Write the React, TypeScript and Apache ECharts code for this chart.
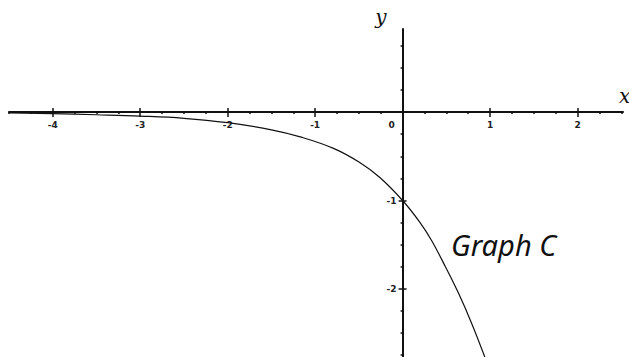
import React, { useEffect, useRef } from "react";
import * as echarts from "echarts";

// Axis ranges and ticks
const xRange = [-4.5, 2.52];
const yRange = [-2.77, 0.94];
const xMajorTicks = [-4, -3, -2, -1, 0, 1, 2];
const xLabels = [-4, -3, -2, -1, 0, 1, 2];
const yMajorTicks = [-2, -1];
const yLabels = [-2, -1];
const xMinorTicks = [
  -4.5, -4.25, -3.75, -3.5, -3.25, -2.75, -2.5, -2.25, -1.75, -1.5, -1.25,
  -0.75, -0.5, -0.25, 0.25, 0.5, 0.75, 1.25, 1.5, 1.75, 2.25, 2.5,
];
const yMinorTicks = [-2.75, -2.5, -2.25, -1.75, -1.5, -1.25, -0.75, -0.5, -0.25, 0.25, 0.5, 0.75];

// Curve
const curveX = [-4.5, -4, -3.5, -3, -2.5, -2, -1.5, -1.17, -0.79, -0.49, -0.26, 0, 0.2, 0.33, 0.49, 0.64, 0.79, 0.94];
const curveY = [-0.01, -0.018, -0.03, -0.045, -0.07, -0.12, -0.2, -0.28, -0.41, -0.57, -0.74, -1, -1.25, -1.45, -1.75, -2.05, -2.39, -2.77];

const annotation = "Graph C";

const W = 629;
const H = 357;
const GRID = { left: 9, right: 6, top: 29, bottom: 0 };

export default function App() {
  const ref = useRef<HTMLDivElement>(null);
  useEffect(() => {
    if (!ref.current) return;
    const chart = echarts.init(ref.current, null, { renderer: "svg" });
    const gw = W - GRID.left - GRID.right;
    const gh = H - GRID.top - GRID.bottom;
    // distance of the zero lines from the grid edges
    const zeroFromLeft = ((0 - xRange[0]) / (xRange[1] - xRange[0])) * gw;
    const zeroFromTop = ((yRange[1] - 0) / (yRange[1] - yRange[0])) * gh;
    const offBottom = -(gh - zeroFromTop);
    const offTop = -zeroFromTop;
    const offLeft = -zeroFromLeft;
    const offRight = -(gw - zeroFromLeft);

    const labelStyle = {
      fontSize: 9,
      fontWeight: "bold" as const,
      color: "#222",
      fontFamily: "DejaVu Sans",
    };
    const tickLine = { color: "#111", width: 1.5 };
    const baseX = {
      type: "value" as const,
      min: xRange[0],
      max: xRange[1],
      splitLine: { show: false },
    };
    const baseY = {
      type: "value" as const,
      min: yRange[0],
      max: yRange[1],
      splitLine: { show: false },
    };
    chart.setOption({
      animation: false,
      backgroundColor: "#fff",
      grid: { ...GRID, containLabel: false, outerBoundsMode: "none" },
      xAxis: [
        {
          ...baseX,
          position: "bottom",
          offset: offBottom,
          name: "x",
          nameLocation: "end",
          nameGap: -4,
          nameTextStyle: {
            fontFamily: "DejaVu Serif",
            fontStyle: "italic",
            fontSize: 20,
            color: "#111",
            verticalAlign: "bottom",
            padding: [0, 0, 6, 0],
          },
          axisLine: { onZero: false, lineStyle: { color: "#111", width: 2 } },
          axisTick: { customValues: xMajorTicks, length: 5, lineStyle: tickLine },
          axisLabel: {
            customValues: xLabels,
            margin: 8,
            ...labelStyle,
            formatter: (v: number) => (v === 0 ? "{z|0}" : String(v)),
            rich: { z: { ...labelStyle, padding: [0, 22, 0, 0] } },
          },
        },
        {
          ...baseX,
          position: "top",
          offset: offTop,
          axisLine: { show: false, onZero: false },
          axisTick: { customValues: xMajorTicks, length: 4, lineStyle: tickLine },
          axisLabel: { show: false },
        },
        {
          ...baseX,
          position: "bottom",
          offset: offBottom,
          axisLine: { show: false, onZero: false },
          axisTick: { customValues: xMinorTicks, length: 2, lineStyle: tickLine },
          axisLabel: { show: false },
        },
      ],
      yAxis: [
        {
          ...baseY,
          position: "left",
          offset: offLeft,
          name: "y",
          nameLocation: "end",
          nameGap: 2,
          nameTextStyle: {
            fontFamily: "DejaVu Serif",
            fontStyle: "italic",
            fontSize: 20,
            color: "#111",
            align: "right",
            padding: [0, 16, 0, 0],
          },
          axisLine: { onZero: false, lineStyle: { color: "#111", width: 2 } },
          axisTick: { customValues: yMajorTicks, length: 4, lineStyle: tickLine },
          axisLabel: { customValues: yLabels, margin: 6, ...labelStyle },
        },
        {
          ...baseY,
          position: "right",
          offset: offRight,
          axisLine: { show: false, onZero: false },
          axisTick: { customValues: yMajorTicks, length: 4, lineStyle: tickLine },
          axisLabel: { show: false },
        },
        {
          ...baseY,
          position: "left",
          offset: offLeft,
          axisLine: { show: false, onZero: false },
          axisTick: { customValues: yMinorTicks, length: 2, lineStyle: tickLine },
          axisLabel: { show: false },
        },
      ],
      series: [
        {
          type: "line",
          xAxisIndex: 0,
          yAxisIndex: 0,
          data: curveX.map((x, i) => [x, curveY[i]]),
          smooth: 0.4,
          showSymbol: false,
          clip: true,
          lineStyle: { color: "#111", width: 1.2 },
        },
      ],
      graphic: [
        {
          type: "text",
          left: 451,
          top: 230,
          style: {
            text: annotation,
            font: 'italic 29px "Noto Sans"',
            fill: "#111",
          },
        },
      ],
    });
    return () => chart.dispose();
  }, []);
  return (
    <div
      ref={ref}
      style={{ position: "absolute", left: 0, top: 0, width: W, height: H, background: "#fff" }}
    />
  );
}
